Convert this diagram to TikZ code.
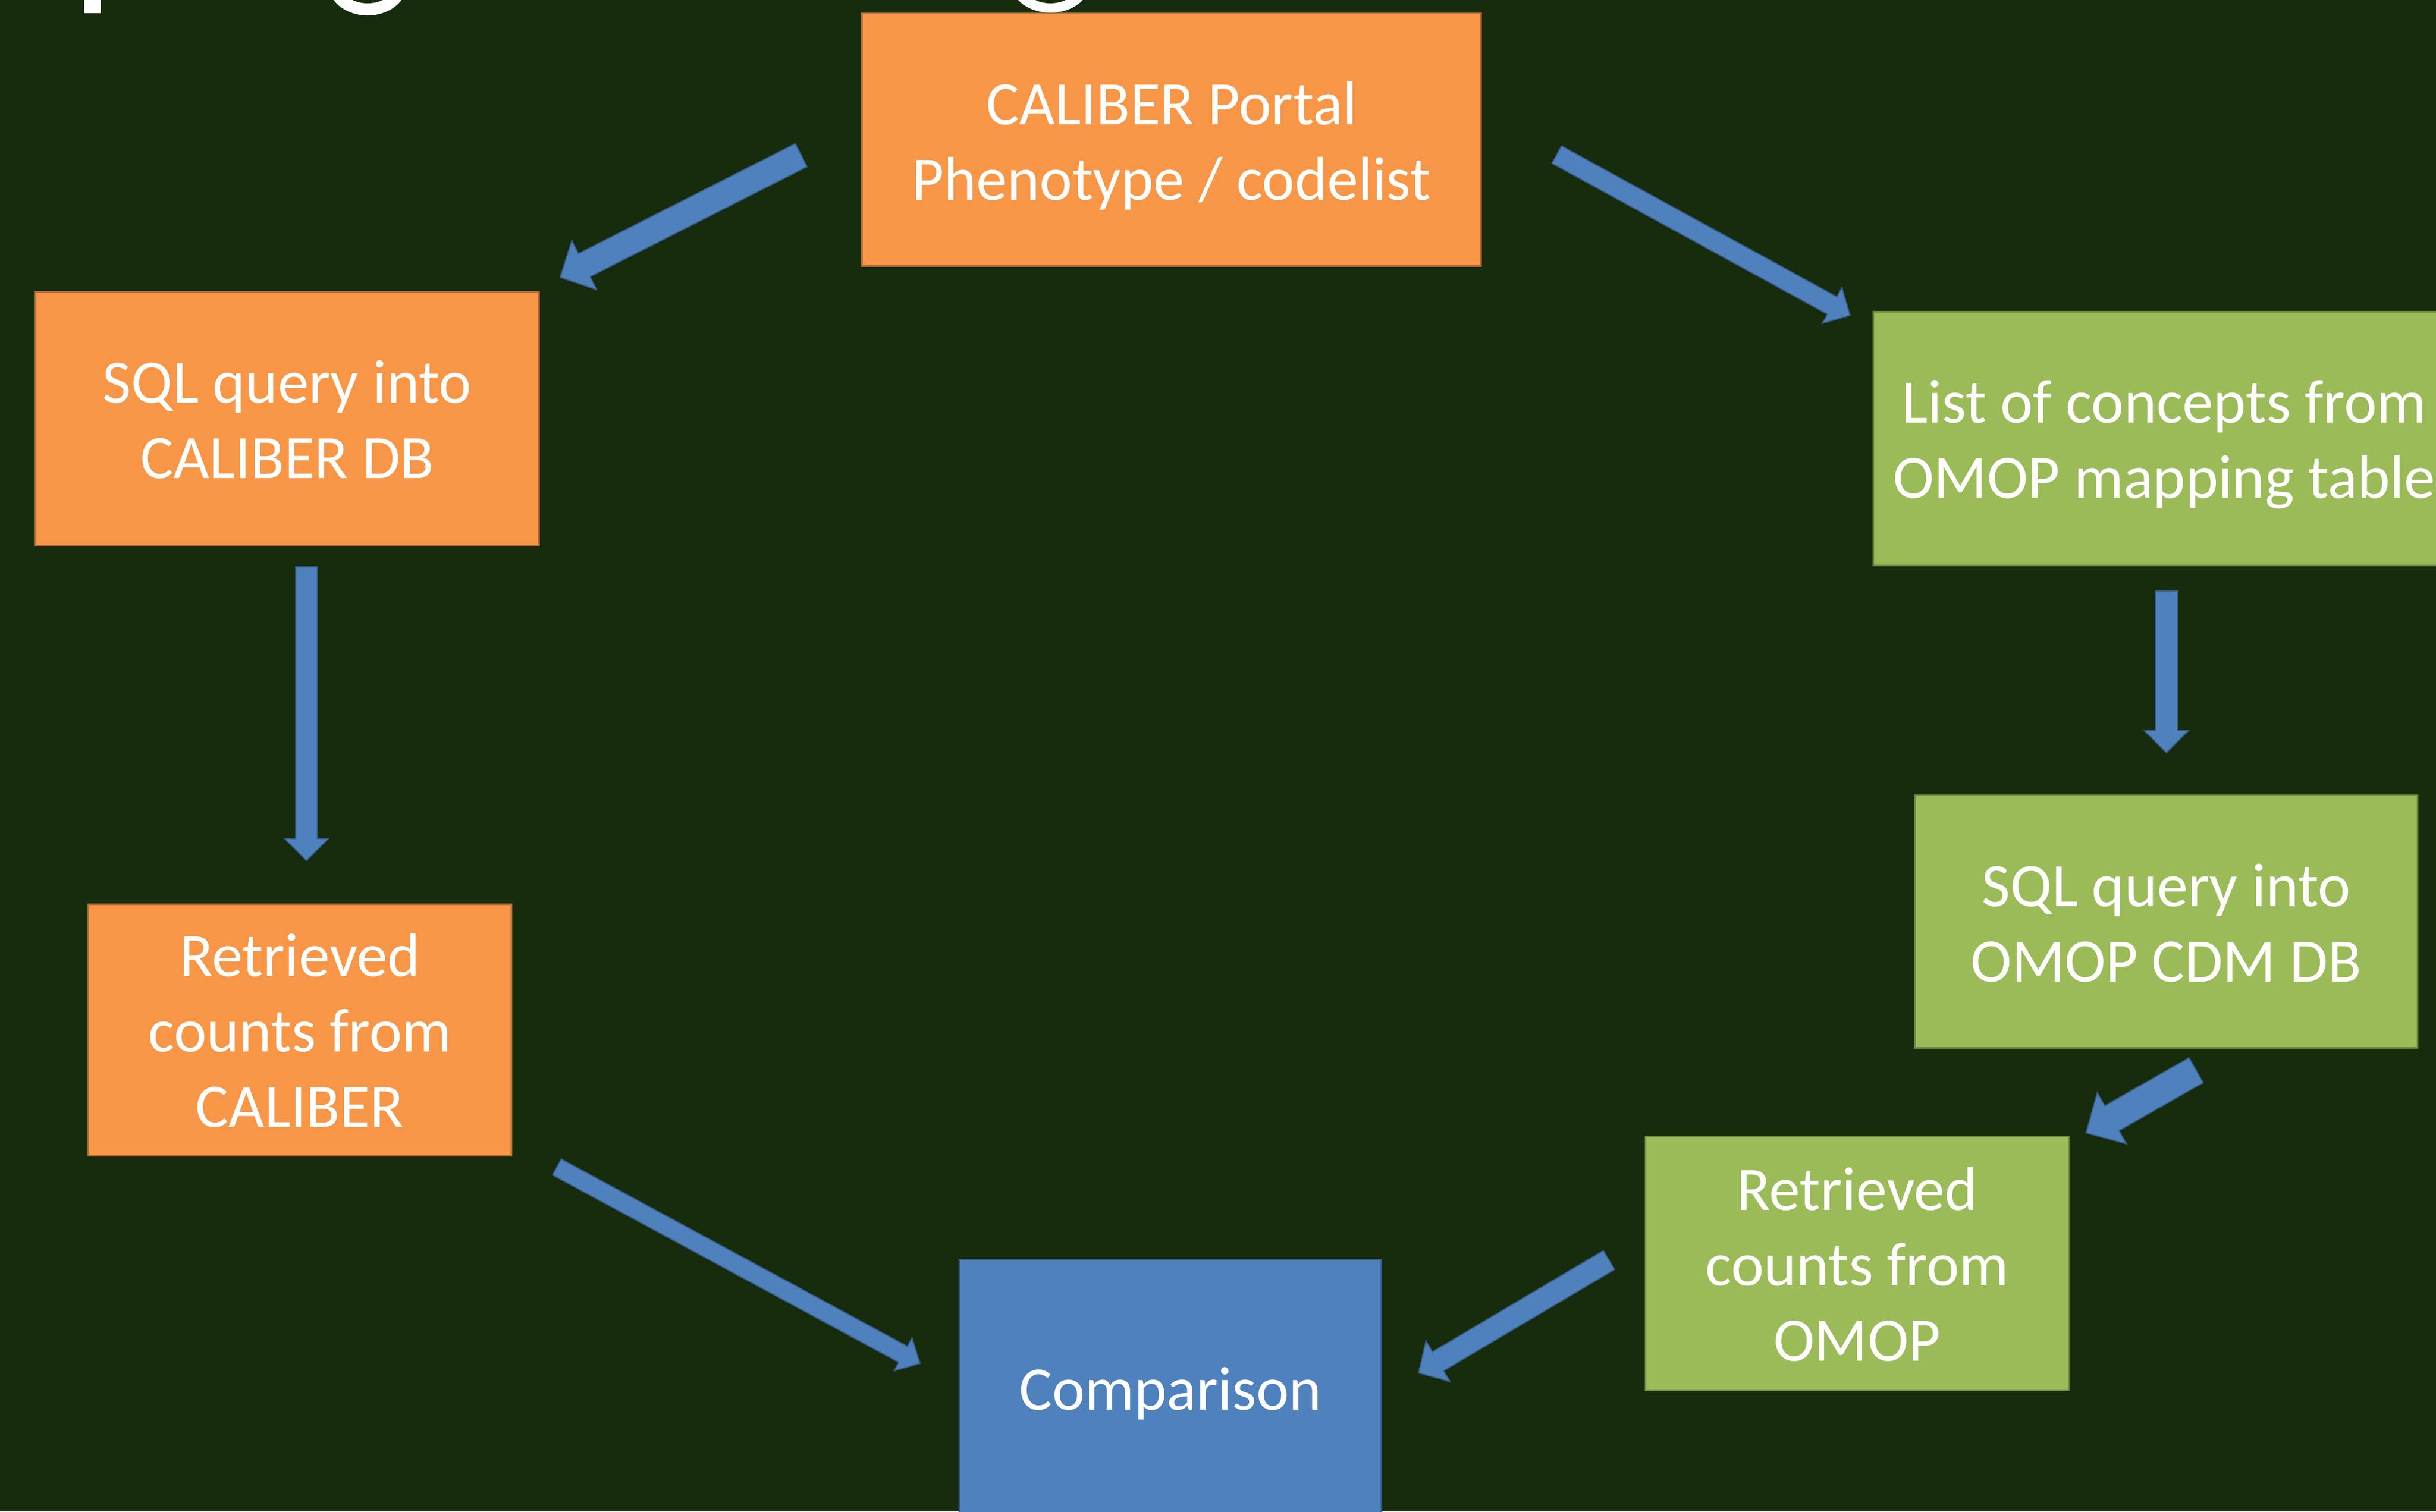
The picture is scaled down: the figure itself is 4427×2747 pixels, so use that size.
\documentclass[tikz,border=0pt]{standalone}
\usepackage{fontspec}
\setmainfont{Carlito}
\usetikzlibrary{calc}
\definecolor{bg}{HTML}{172B0D}
\definecolor{orfill}{HTML}{F79646}
\definecolor{ordraw}{HTML}{B66D31}
\definecolor{grfill}{HTML}{9BBB59}
\definecolor{grdraw}{HTML}{71893F}
\definecolor{blfill}{HTML}{4F81BD}
\definecolor{bldraw}{HTML}{385D8A}
\tikzset{
  box/.style={rectangle, draw, line width=0.03cm, inner sep=0pt},
  obox/.style={box, fill=orfill, draw=ordraw},
  gbox/.style={box, fill=grfill, draw=grdraw},
  bbox/.style={box, fill=blfill, draw=bldraw},
  boxtext/.style={text=white, align=center, inner sep=0pt,
    font=\fontsize{32}{39}\selectfont},
  blockarrow/.style={fill=blfill, draw=bldraw, line width=0.02cm, line join=miter},
  titlefrag/.style={fill=white},
}
% #1 tail, #2 tip, #3 half shaft width, #4 half head width, #5 head length
\newcommand\blkarrow[5]{%
  \coordinate (hb) at ($(#2)!#5!(#1)$);
  \filldraw[blockarrow] ($(#1)!#3!90:(#2)$) -- ($(hb)!#3!90:(#2)$) --
    ($(hb)!#4!90:(#2)$) -- (#2) -- ($(hb)!#4!-90:(#2)$) --
    ($(hb)!#3!-90:(#2)$) -- ($(#1)!#3!-90:(#2)$) -- cycle;
}
\begin{document}
\begin{tikzpicture}[x=0.01cm, y=-0.01cm]
\useasboundingbox (0,0) rectangle (4427,2747);
\fill[bg] (0,0) rectangle (4427,2747);

% fragments of the cropped title
\fill[titlefrag] (153,-20) rectangle (183,24);
\fill[titlefrag, even odd rule] (668,-30) ellipse [x radius=0.72cm, y radius=0.58cm]
  (668,-30) ellipse [x radius=0.5cm, y radius=0.36cm];
\fill[titlefrag, even odd rule] (1909,-30) ellipse [x radius=0.71cm, y radius=0.53cm]
  (1909,-30) ellipse [x radius=0.5cm, y radius=0.36cm];

% boxes
\node[obox, minimum width=11.24cm, minimum height=4.58cm] (portal) at (2129,254) {};
\node[obox, minimum width=9.15cm, minimum height=4.6cm] (sqlcal) at (522,761) {};
\node[obox, minimum width=7.68cm, minimum height=4.57cm] (retcal) at (545,1872) {};
\node[gbox, minimum width=10.56cm, minimum height=4.6cm] (list) at (3933,797) {};
\node[gbox, minimum width=9.12cm, minimum height=4.58cm] (sqlomop) at (3937,1675) {};
\node[gbox, minimum width=7.68cm, minimum height=4.6cm] (retomop) at (3375,2296) {};
\node[bbox, minimum width=7.67cm, minimum height=5cm] (comp) at (2127,2540) {};

% texts
\node[boxtext, yshift=-0.11cm] (tportal) at (portal.center) {CALIBER Portal\\Phenotype / codelist};
\node[boxtext, yshift=-0.02cm] (tsqlcal) at (sqlcal.center) {SQL query into\\CALIBER DB};
\node[boxtext, yshift=-0.01cm] (tretcal) at (retcal.center) {Retrieved\\counts from\\CALIBER};
\node[boxtext, yshift=-0.11cm] (tlist) at (list.center) {List of concepts from\\OMOP mapping table};
\node[boxtext, yshift=-0.03cm] (tsqlomop) at (sqlomop.center) {SQL query into\\OMOP CDM DB};
\node[boxtext, yshift=-0.02cm] (tretomop) at (retomop.center) {Retrieved\\counts from\\OMOP};
\node[boxtext, yshift=-0.11cm] (tcomp) at (2127,2522) {Comparison};

% arrows
\coordinate (a1s) at (1456,282);  \coordinate (a1e) at (1018,504);
\coordinate (a2s) at (2829,281);  \coordinate (a2e) at (3362,573);
\coordinate (a3s) at (557,1030);  \coordinate (a3e) at (557,1564);
\coordinate (a4s) at (3937,1074); \coordinate (a4e) at (3937,1368);
\coordinate (a5s) at (3991,1945); \coordinate (a5e) at (3791,2059);
\coordinate (a6s) at (2924,2290); \coordinate (a6e) at (2578,2495);
\coordinate (a7s) at (1012,2121); \coordinate (a7e) at (1672,2478);
\blkarrow{a1s}{a1e}{0.235cm}{0.5cm}{0.49cm}
\blkarrow{a2s}{a2e}{0.18cm}{0.37cm}{0.37cm}
\blkarrow{a3s}{a3e}{0.195cm}{0.4cm}{0.4cm}
\blkarrow{a4s}{a4e}{0.2cm}{0.4cm}{0.4cm}
\blkarrow{a5s}{a5e}{0.26cm}{0.535cm}{0.54cm}
\blkarrow{a6s}{a6e}{0.2cm}{0.43cm}{0.41cm}
\blkarrow{a7s}{a7e}{0.165cm}{0.34cm}{0.35cm}
\end{tikzpicture}
\end{document}
